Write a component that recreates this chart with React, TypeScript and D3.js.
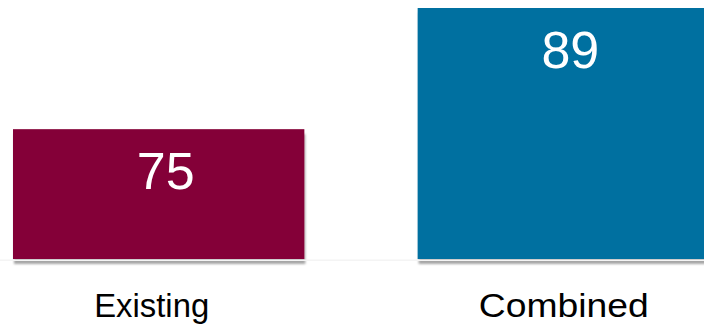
import React from "react";
import * as d3 from "d3";

const categories = ["Existing", "Combined"];
const values = [75, 89];
const colors = ["#840037", "#0070A0"];

const W = 704;
const H = 327;

export default function App() {
  const x = d3.scaleBand<string>().domain(categories).range([13, 709]).paddingInner(0.28).paddingOuter(0);
  const y = d3.scaleLinear().domain([60, 89]).range([259, 8]);
  const base = y(60);
  const labelShift = [-7, 0.5];
  const labelLen = [115, 170];
  return (
    <svg
      width={W}
      height={H}
      style={{ position: "absolute", left: 0, top: 0, display: "block", background: "#fff" }}
      fontFamily="Liberation Sans, Arial, sans-serif"
    >
      <defs>
        <filter id="sh" x="-10%" y="-10%" width="120%" height="130%">
          <feDropShadow dx="1" dy="5" stdDeviation="1.3" floodColor="#000" floodOpacity="0.35" />
        </filter>
      </defs>
      {categories.map((c, i) => (
        <rect
          key={c}
          x={x(c)}
          y={y(values[i])}
          width={x.bandwidth()}
          height={base - y(values[i])}
          fill={colors[i]}
          filter="url(#sh)"
        />
      ))}
      <line x1={0} x2={W} y1={base + 1.2} y2={base + 1.2} stroke="#f4f4f4" strokeWidth={1.5} />
      {categories.map((c, i) => (
        <text
          key={c + "v"}
          x={(x(c) as number) + x.bandwidth() / 2 + 7}
          y={y(values[i]) + 60}
          textAnchor="middle"
          fill="#fff"
          fontSize={52}
        >
          {values[i]}
        </text>
      ))}
      {categories.map((c, i) => (
        <text
          key={c + "l"}
          x={(x(c) as number) + x.bandwidth() / 2 + labelShift[i] - labelLen[i] / 2}
          y={317}
          textAnchor="start"
          fill="#000"
          fontSize={34}
          textLength={labelLen[i]}
          lengthAdjust="spacingAndGlyphs"
        >
          {c}
        </text>
      ))}
    </svg>
  );
}
